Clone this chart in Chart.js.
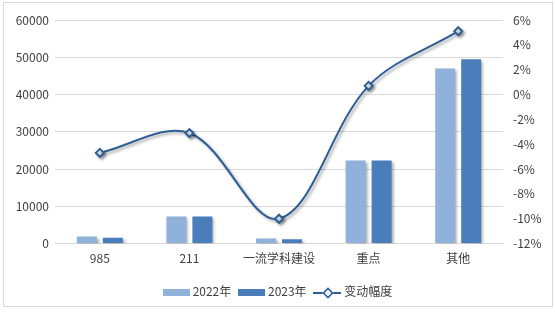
<!DOCTYPE html>
<html>
<head>
<meta charset="utf-8">
<script src="https://cdn.jsdelivr.net/npm/chart.js@4"></script>
<style>
    body { margin: 0; background: #fff; }
    #wrap { position: relative; width: 555px; height: 313px; }
    #frame { position: absolute; left: 3px; top: 2px; width: 548px; height: 303px; border: 1px solid #d9d9d9; }
    canvas { position: absolute; left: 0; top: 0; }
    #legend { position: absolute; top: 280px; left: 0; width: 555px; text-align: center;
        font-family: 'Noto Sans CJK SC', sans-serif; font-size: 12px; color: #404040; }
    .item { display: inline-block; margin: 0 2px; vertical-align: middle; }
    .box { display: inline-block; width: 27px; height: 7px; vertical-align: middle; margin-right: 3px; }
    .ln { display: inline-block; position: relative; width: 28px; height: 2px; background: #2E5E96; vertical-align: middle; margin-right: 3px; }
    .ln i { position: absolute; left: 10px; top: -4px; width: 6px; height: 6px; background: #fff; border: 2px solid #2E5E96; transform: rotate(45deg) scale(0.8); }
</style>
</head>
<body>
<div id="wrap">
    <div id="frame"></div>
    <canvas id="grafico" width="555" height="313"></canvas>
    <div id="legend"></div>
</div>
<script>
// dados
const categorias = ['985', '211', '一流学科建设', '重点', '其他'];
const valores2022 = [1900, 7300, 1400, 22300, 47000];
const valores2023 = [1600, 7300, 1150, 22300, 49500];
const variacao = [-4.7, -3.1, -10.0, 0.7, 5.1];
const seriesNomes = ['2022年', '2023年', '变动幅度'];

const corClara = '#8FB1DA';
const corEscura = '#4A7EBB';
const corLinha = '#2E5E96';
const fonte = "'Noto Sans CJK SC', sans-serif";

// sombra leve nas barras e na linha
const sombraPlugin = {
    id: 'sombra',
    beforeDatasetDraw(chart) {
        const ctx = chart.ctx;
        ctx.save();
        ctx.shadowColor = 'rgba(0,0,0,0.35)';
        ctx.shadowBlur = 3;
        ctx.shadowOffsetX = 2;
        ctx.shadowOffsetY = 2;
    },
    afterDatasetDraw(chart) {
        chart.ctx.restore();
    }
};

const chart = new Chart(document.getElementById('grafico').getContext('2d'), {
    type: 'bar',
    data: {
        labels: categorias,
        datasets: [
            {
                label: seriesNomes[0],
                data: valores2022,
                backgroundColor: corClara,
                yAxisID: 'y',
                order: 1,
                barPercentage: 0.77,
                categoryPercentage: 0.58
            },
            {
                label: seriesNomes[1],
                data: valores2023,
                backgroundColor: corEscura,
                yAxisID: 'y',
                order: 1,
                barPercentage: 0.77,
                categoryPercentage: 0.58
            },
            {
                type: 'line',
                label: seriesNomes[2],
                data: variacao,
                yAxisID: 'y1',
                order: 0,
                borderColor: corLinha,
                borderWidth: 2,
                tension: 0.35,
                pointStyle: 'rectRot',
                pointRadius: 4,
                pointBackgroundColor: '#fff',
                pointBorderColor: corLinha,
                pointBorderWidth: 2
            }
        ]
    },
    options: {
        responsive: false,
        animation: false,
        devicePixelRatio: 1,
        layout: { padding: { top: 20, bottom: 47 } },
        plugins: {
            legend: { display: false },
            tooltip: { enabled: false }
        },
        scales: {
            x: {
                grid: { display: false },
                border: { color: '#d9d9d9' },
                ticks: { color: '#404040', font: { family: fonte, size: 12 }, padding: 0 }
            },
            y: {
                position: 'left',
                min: 0, max: 60000,
                ticks: {
                    stepSize: 10000, color: '#404040', font: { family: fonte, size: 12 }, padding: 6,
                    callback: v => String(v)
                },
                grid: { color: '#d9d9d9', drawTicks: false },
                border: { display: false },
                afterFit(scale) { scale.width = 55; }
            },
            y1: {
                position: 'right',
                min: -12, max: 6,
                ticks: {
                    stepSize: 2, color: '#404040', font: { family: fonte, size: 12 }, padding: 10,
                    callback: v => v + '%'
                },
                grid: { display: false, drawTicks: false },
                border: { display: false },
                afterFit(scale) { scale.width = 52; }
            }
        }
    },
    plugins: [sombraPlugin]
});

// legenda em HTML
document.getElementById('legend').innerHTML = `
    <span class="item"><span class="box" style="background:${corClara}"></span>${seriesNomes[0]}</span>
    <span class="item"><span class="box" style="background:${corEscura}"></span>${seriesNomes[1]}</span>
    <span class="item"><span class="ln"><i></i></span>${seriesNomes[2]}</span>
`;
</script>
</body>
</html>
